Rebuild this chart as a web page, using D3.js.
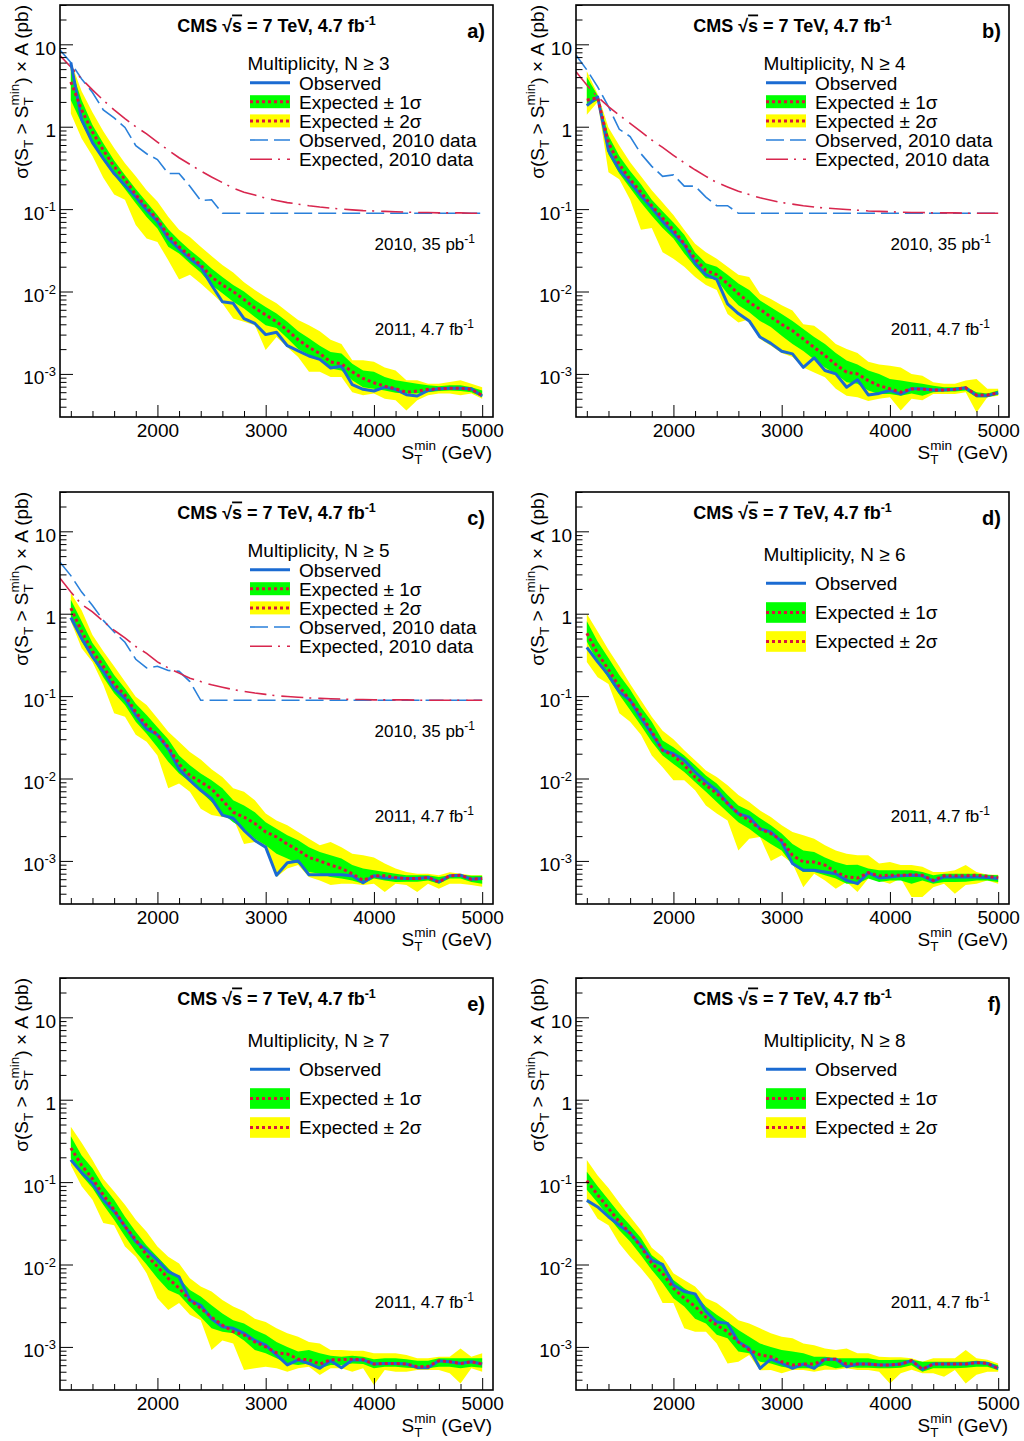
<!DOCTYPE html>
<html><head><meta charset="utf-8">
<script src="https://cdn.jsdelivr.net/npm/d3@7"></script>
<style>
body{margin:0;background:#fff;}
text{font-family:"Liberation Sans",Arial,Helvetica,sans-serif;fill:#000;}
</style></head><body>
<svg id="c" width="1024" height="1441"></svg>
<script>
// ---------- data ----------
const stMin = [1200,1300,1400,1500,1600,1700,1800,1900,2000,2100,2200,2300,2400,2500,2600,2700,2800,2900,3000,3100,3200,3300,3400,3500,3600,3700,3800,3900,4000,4100,4200,4300,4400,4500,4600,4700,4800,4900,5000];
const st2010 = [1100,1200,1300,1400,1500,1600,1700,1800,1900,2000,2100,2200,2300,2400,2500,2600,2700,2800,2900,3000,3100,3200,3300,3400,3500,3600,3700,3800,3900,4000,4100,4200,4300,4400,4500,4600,4700,4800,4900,5000];

// a) N>=3
const obsA = [6.0,1.22,0.64,0.41,0.27,0.195,0.14,0.097,0.071,0.044,0.033,0.025,0.020,0.012,0.0075,0.0072,0.0047,0.0041,0.0030,0.0032,0.0022,0.0019,0.00165,0.0015,0.00118,0.00124,0.00074,0.00065,0.00062,0.00069,0.00065,0.00056,0.00054,0.00063,0.00066,0.00067,0.00067,0.00066,0.00054];
const expA = [3.5,1.6,0.86,0.52,0.33,0.23,0.15,0.105,0.075,0.048,0.035,0.027,0.021,0.015,0.012,0.010,0.0080,0.0063,0.0052,0.0043,0.0034,0.0026,0.0021,0.00177,0.0014,0.00133,0.00106,0.00088,0.00078,0.00071,0.00066,0.00060,0.00062,0.00065,0.00066,0.00067,0.00067,0.00065,0.00055];
const hi1A = [5.2,2.1,1.05,0.63,0.39,0.26,0.175,0.122,0.085,0.057,0.042,0.032,0.025,0.019,0.015,0.012,0.010,0.0079,0.0065,0.0054,0.0043,0.0033,0.0027,0.0022,0.00185,0.00177,0.00133,0.0011,0.00106,0.00092,0.00084,0.0008,0.00076,0.00073,0.00071,0.00073,0.00073,0.00069,0.00063];
const lo1A = [2.1,1.1,0.62,0.39,0.26,0.175,0.118,0.08,0.058,0.035,0.029,0.022,0.017,0.012,0.0095,0.0075,0.0062,0.0049,0.0039,0.0036,0.0027,0.0020,0.0017,0.00147,0.00116,0.0011,0.00084,0.00069,0.00066,0.00063,0.00059,0.00058,0.00058,0.0006,0.00062,0.00063,0.00062,0.0006,0.000525];
const hi2A = [6.1,2.7,1.5,0.88,0.55,0.36,0.25,0.17,0.124,0.081,0.056,0.046,0.035,0.027,0.021,0.017,0.013,0.0104,0.0086,0.0072,0.0057,0.0045,0.0039,0.0033,0.0026,0.0023,0.00147,0.00147,0.0014,0.0012,0.0011,0.00084,0.00084,0.00076,0.00076,0.0008,0.00084,0.00076,0.00069];
const lo2A = [1.45,0.72,0.44,0.24,0.15,0.13,0.064,0.044,0.040,0.024,0.014,0.016,0.0125,0.0095,0.0072,0.0047,0.0043,0.0039,0.00195,0.0028,0.0021,0.0016,0.00106,0.00106,0.00092,0.00092,0.0006,0.00055,0.00058,0.0005,0.00048,0.00036,0.00048,0.00055,0.00058,0.00058,0.00055,0.00058,0.0005];
const obs2010A = [8.5,6.0,3.8,2.6,1.6,1.28,0.98,0.59,0.47,0.40,0.27,0.27,0.19,0.127,0.13,0.089,0.089,0.089,0.089,0.089,0.089,0.089,0.089,0.089,0.089,0.089,0.089,0.089,0.089,0.089,0.089,0.089,0.089,0.089,0.089,0.089,0.089,0.089,0.089,0.089];
const exp2010A = [7.3,5.3,3.8,2.8,2.1,1.6,1.25,1.0,0.82,0.65,0.52,0.42,0.35,0.29,0.245,0.21,0.18,0.16,0.148,0.136,0.127,0.12,0.115,0.11,0.106,0.103,0.1,0.098,0.096,0.095,0.094,0.093,0.092,0.091,0.091,0.09,0.09,0.09,0.089,0.089];

// b) N>=4
const obsB = [1.8,2.3,0.51,0.30,0.21,0.145,0.104,0.071,0.051,0.037,0.022,0.016,0.014,0.0071,0.0054,0.0044,0.0028,0.00235,0.00188,0.00175,0.0012,0.00157,0.0011,0.001,0.00069,0.00085,0.000555,0.00058,0.00063,0.00057,0.00066,0.00066,0.00064,0.00064,0.00065,0.00068,0.000545,0.000545,0.00059];
const expB = [2.1,2.25,0.64,0.35,0.23,0.16,0.11,0.078,0.056,0.038,0.025,0.018,0.016,0.0125,0.0094,0.0074,0.0061,0.0049,0.004,0.00335,0.00265,0.0021,0.00167,0.0013,0.00105,0.001,0.00083,0.00072,0.00066,0.0006,0.00066,0.00065,0.00064,0.00064,0.00065,0.00068,0.000555,0.000555,0.00059];
const hi1B = [4.0,2.4,0.78,0.44,0.29,0.20,0.13,0.094,0.069,0.049,0.030,0.022,0.020,0.016,0.0125,0.0104,0.0078,0.00645,0.00535,0.0044,0.0035,0.0028,0.0023,0.0018,0.00145,0.0013,0.0011,0.001,0.00087,0.00083,0.00079,0.00076,0.00072,0.00069,0.00069,0.0007,0.0006,0.00058,0.00063];
const lo1B = [1.8,2.1,0.46,0.27,0.18,0.12,0.083,0.059,0.044,0.029,0.020,0.0145,0.014,0.0094,0.0068,0.0056,0.0044,0.0037,0.0029,0.0023,0.0019,0.0015,0.0012,0.001,0.00079,0.00076,0.00063,0.00057,0.00057,0.000545,0.00058,0.000545,0.0006,0.00061,0.00061,0.00063,0.00052,0.00052,0.00056];
const hi2B = [4.7,2.5,0.98,0.59,0.37,0.25,0.17,0.12,0.085,0.056,0.038,0.030,0.025,0.020,0.016,0.015,0.0094,0.0081,0.0068,0.0059,0.004,0.00385,0.00305,0.0023,0.002,0.0018,0.0014,0.0013,0.00126,0.0012,0.001,0.00095,0.00079,0.00076,0.00076,0.00083,0.00087,0.00066,0.00066];
const lo2B = [1.4,2.0,0.28,0.23,0.13,0.056,0.059,0.030,0.025,0.020,0.015,0.012,0.0104,0.00535,0.0042,0.0046,0.00265,0.0022,0.0018,0.0016,0.0012,0.00104,0.00091,0.00066,0.000545,0.00052,0.00047,0.0005,0.00052,0.00036,0.0005,0.00048,0.00057,0.00057,0.00057,0.0006,0.00034,0.00052,0.000545];
const obs2010B = [7.4,4.9,3.05,1.75,0.93,0.76,0.47,0.33,0.25,0.26,0.19,0.19,0.14,0.11,0.11,0.089,0.089,0.089,0.089,0.089,0.089,0.089,0.089,0.089,0.089,0.089,0.089,0.089,0.089,0.089,0.089,0.089,0.089,0.089,0.089,0.089,0.089,0.089,0.089,0.089];
const exp2010B = [4.65,3.2,2.3,1.75,1.38,1.1,0.87,0.69,0.56,0.45,0.365,0.30,0.25,0.21,0.186,0.165,0.15,0.137,0.128,0.12,0.115,0.11,0.106,0.103,0.101,0.099,0.097,0.095,0.094,0.093,0.092,0.091,0.091,0.090,0.090,0.090,0.089,0.089,0.089,0.089];

// c) N>=5
const obsC = [0.9,0.50,0.30,0.20,0.124,0.094,0.059,0.040,0.034,0.023,0.013,0.0095,0.0072,0.0057,0.0036,0.0033,0.00235,0.00177,0.00147,0.00067,0.00095,0.001,0.00068,0.00068,0.00068,0.00068,0.00066,0.000545,0.00066,0.00062,0.00062,0.00061,0.00061,0.00063,0.000555,0.00066,0.00067,0.0006,0.00061];
const expC = [1.17,0.61,0.35,0.23,0.14,0.103,0.064,0.044,0.034,0.024,0.015,0.0109,0.0091,0.0075,0.00545,0.0039,0.0034,0.00285,0.00225,0.00195,0.0016,0.00135,0.0011,0.001,0.00089,0.00081,0.0007,0.00058,0.00066,0.00066,0.00063,0.00061,0.00061,0.00063,0.000555,0.00066,0.00067,0.0006,0.00061];
const hi1C = [1.48,0.81,0.44,0.29,0.18,0.124,0.081,0.059,0.042,0.030,0.019,0.0145,0.0115,0.0095,0.0076,0.00545,0.0047,0.0039,0.00295,0.00245,0.00205,0.00178,0.00147,0.00128,0.00117,0.00107,0.00089,0.00081,0.00077,0.000735,0.0007,0.00067,0.00067,0.00067,0.00064,0.00067,0.00068,0.00066,0.00066];
const lo1C = [0.93,0.46,0.29,0.17,0.108,0.078,0.049,0.035,0.024,0.016,0.0115,0.0091,0.0069,0.0052,0.00375,0.00295,0.00245,0.00186,0.00155,0.00122,0.00107,0.00093,0.000735,0.0007,0.00064,0.00061,0.00058,0.00053,0.00061,0.00058,0.000555,0.00056,0.00056,0.00058,0.00053,0.00061,0.00061,0.000555,0.00053];
const hi2C = [1.78,1.1,0.55,0.35,0.23,0.15,0.098,0.078,0.054,0.037,0.028,0.021,0.017,0.013,0.0104,0.0076,0.0069,0.00545,0.00375,0.0031,0.0027,0.00225,0.00186,0.00155,0.0017,0.00147,0.00122,0.00117,0.0011,0.00093,0.00081,0.000735,0.0007,0.0007,0.00067,0.00073,0.0007,0.00067,0.00067];
const lo2C = [0.81,0.38,0.26,0.137,0.062,0.056,0.034,0.028,0.019,0.0076,0.0087,0.0069,0.0043,0.0036,0.0034,0.0033,0.0016,0.0017,0.00147,0.00064,0.00081,0.00089,0.00064,0.00058,0.00051,0.00053,0.00053,0.00051,0.00053,0.00042,0.00053,0.00051,0.00042,0.00053,0.00046,0.00053,0.00053,0.00051,0.000485];
const obs2010C = [4.2,2.9,1.83,1.26,0.83,0.60,0.45,0.28,0.22,0.23,0.205,0.20,0.15,0.089,0.089,0.089,0.089,0.089,0.089,0.089,0.089,0.089,0.089,0.089,0.089,0.089,0.089,0.089,0.089,0.089,0.089,0.089,0.089,0.089,0.089,0.089,0.089,0.089,0.089,0.089];
const exp2010C = [2.7,1.83,1.3,1.05,0.81,0.63,0.51,0.40,0.33,0.26,0.22,0.19,0.165,0.15,0.137,0.128,0.12,0.114,0.109,0.105,0.101,0.099,0.097,0.095,0.094,0.093,0.092,0.091,0.091,0.090,0.090,0.090,0.090,0.089,0.089,0.089,0.089,0.089,0.089,0.089];

// d) N>=6
const obsD = [0.39,0.26,0.18,0.113,0.089,0.054,0.035,0.022,0.020,0.0167,0.012,0.0091,0.0072,0.005,0.00375,0.0034,0.00245,0.00225,0.0017,0.00093,0.00077,0.00077,0.000735,0.0007,0.00058,0.00053,0.00072,0.00062,0.00064,0.00066,0.00067,0.00066,0.00057,0.00064,0.00064,0.00064,0.00064,0.00063,0.00061];
const expD = [0.58,0.33,0.21,0.13,0.089,0.059,0.037,0.022,0.019,0.0145,0.0104,0.0083,0.0066,0.005,0.00375,0.0031,0.00245,0.00215,0.00178,0.00117,0.00097,0.00097,0.00089,0.000735,0.00064,0.00062,0.00072,0.00066,0.00067,0.00067,0.00068,0.00067,0.00058,0.00066,0.00066,0.00066,0.00067,0.00065,0.00063];
const hi1D = [0.81,0.46,0.29,0.18,0.12,0.074,0.049,0.029,0.024,0.019,0.0145,0.0109,0.0087,0.0063,0.0047,0.0041,0.0033,0.0027,0.00215,0.0016,0.00134,0.00128,0.0011,0.00097,0.00089,0.0009,0.00081,0.00077,0.00077,0.00077,0.00077,0.000735,0.00067,0.0007,0.0007,0.0007,0.0007,0.00068,0.00067];
const lo1D = [0.46,0.26,0.165,0.104,0.068,0.044,0.028,0.019,0.015,0.012,0.0091,0.0069,0.0052,0.0039,0.00295,0.00245,0.00195,0.0016,0.00134,0.00089,0.000735,0.000735,0.00067,0.00061,0.00053,0.00053,0.00061,0.000555,0.00058,0.00058,0.00053,0.00058,0.00053,0.000555,0.000555,0.00056,0.00058,0.00058,0.000555];
const hi2D = [1.0,0.61,0.365,0.23,0.14,0.089,0.056,0.038,0.030,0.022,0.0167,0.0125,0.0104,0.0083,0.0063,0.0052,0.0041,0.0034,0.0027,0.00225,0.00205,0.00186,0.00155,0.00134,0.00122,0.00117,0.00117,0.00093,0.00097,0.00089,0.00089,0.00085,0.000735,0.000735,0.00077,0.00089,0.000735,0.00068,0.00068];
const lo2D = [0.26,0.17,0.14,0.062,0.049,0.034,0.019,0.0137,0.0095,0.0095,0.0072,0.0047,0.00375,0.0031,0.00134,0.00186,0.00195,0.001,0.00117,0.00093,0.00048,0.0007,0.00058,0.00046,0.000555,0.00042,0.00061,0.00058,0.00053,0.00061,0.000365,0.000365,0.00048,0.00053,0.0004,0.00051,0.00053,0.00058,0.00053];

// e) N>=7
const obsE = [0.186,0.13,0.097,0.061,0.044,0.029,0.019,0.015,0.0113,0.0082,0.0071,0.0037,0.0032,0.0022,0.00176,0.00168,0.00146,0.0012,0.00105,0.0008,0.000605,0.000695,0.00063,0.00055,0.00068,0.00056,0.000695,0.000695,0.00062,0.00063,0.00063,0.00062,0.00056,0.00056,0.00068,0.00066,0.00063,0.00066,0.00062];
const expE = [0.26,0.16,0.11,0.070,0.046,0.029,0.020,0.013,0.0094,0.0068,0.00515,0.0037,0.00295,0.0023,0.00184,0.00153,0.0014,0.00115,0.001,0.00085,0.00082,0.00071,0.0007,0.00062,0.0007,0.0007,0.00071,0.0007,0.00062,0.00063,0.00063,0.00062,0.000575,0.00058,0.00068,0.00066,0.00063,0.00066,0.00062];
const hi1E = [0.36,0.21,0.147,0.090,0.061,0.038,0.025,0.017,0.0124,0.009,0.0068,0.0049,0.0041,0.0032,0.00255,0.0021,0.00193,0.0016,0.0014,0.00115,0.001,0.00088,0.00092,0.00084,0.00078,0.00076,0.00078,0.00076,0.00071,0.00073,0.00073,0.00071,0.00068,0.00068,0.00073,0.00073,0.00073,0.00073,0.00073];
const lo1E = [0.195,0.12,0.085,0.053,0.035,0.022,0.0143,0.01,0.0068,0.0049,0.0043,0.0031,0.0023,0.00168,0.00153,0.00146,0.0012,0.00092,0.00084,0.00073,0.00063,0.000605,0.00063,0.00055,0.000605,0.000605,0.00063,0.00062,0.00055,0.000575,0.000575,0.00056,0.00055,0.00055,0.000575,0.000575,0.00055,0.000575,0.00056];
const hi2E = [0.47,0.30,0.186,0.11,0.077,0.053,0.035,0.025,0.0165,0.0124,0.0103,0.0068,0.0054,0.0047,0.0037,0.0031,0.0027,0.0022,0.002,0.00168,0.00146,0.00133,0.00115,0.0011,0.00092,0.00092,0.0009,0.0009,0.00084,0.00084,0.00084,0.0008,0.00073,0.00073,0.00076,0.00076,0.00096,0.00076,0.00084];
const lo2E = [0.16,0.089,0.061,0.032,0.030,0.0165,0.0124,0.00785,0.0039,0.0028,0.0034,0.00245,0.0021,0.00092,0.0012,0.0011,0.000525,0.00055,0.000575,0.00055,0.0005,0.00055,0.000575,0.000455,0.00055,0.00055,0.0005,0.00055,0.000345,0.000525,0.0005,0.0005,0.000525,0.000525,0.000525,0.00048,0.00036,0.00055,0.0005];

// f) N>=8
const obsF = [0.060,0.050,0.038,0.030,0.024,0.017,0.0113,0.010,0.00565,0.0047,0.0044,0.0027,0.002,0.00193,0.00115,0.00096,0.00055,0.00071,0.00063,0.00055,0.00062,0.00055,0.00071,0.00071,0.000575,0.00062,0.00062,0.000605,0.000605,0.00062,0.00068,0.000535,0.00062,0.00062,0.00062,0.00062,0.000645,0.00063,0.00055];
const expF = [0.104,0.070,0.048,0.033,0.024,0.0165,0.0103,0.00785,0.00515,0.0039,0.0031,0.0023,0.00184,0.00153,0.00115,0.00092,0.0008,0.00076,0.00066,0.000605,0.00062,0.00062,0.00071,0.00071,0.00062,0.00062,0.00062,0.000605,0.000605,0.00062,0.00068,0.000535,0.00062,0.00062,0.00062,0.00062,0.000645,0.00063,0.00055];
const hi1F = [0.134,0.089,0.061,0.042,0.030,0.021,0.013,0.0103,0.0065,0.00515,0.0043,0.0031,0.00245,0.002,0.0016,0.00133,0.0011,0.001,0.00092,0.00088,0.00084,0.00076,0.00076,0.00073,0.00073,0.00073,0.00073,0.000695,0.000695,0.0007,0.0007,0.00066,0.00066,0.00066,0.00066,0.00066,0.00068,0.00066,0.0006];
const lo1F = [0.081,0.056,0.038,0.026,0.019,0.013,0.0086,0.00595,0.0039,0.0031,0.0022,0.00193,0.0014,0.00127,0.00088,0.00084,0.00066,0.00063,0.000575,0.00055,0.00055,0.00055,0.0006,0.00055,0.000575,0.00056,0.00056,0.00055,0.00055,0.00056,0.0006,0.0005,0.00055,0.00055,0.00055,0.00056,0.000575,0.000575,0.00052];
const hi2F = [0.186,0.12,0.085,0.056,0.038,0.026,0.016,0.0124,0.00785,0.0065,0.0054,0.0039,0.0034,0.0027,0.0021,0.00193,0.00168,0.00146,0.00133,0.00127,0.0011,0.00105,0.00096,0.00092,0.00096,0.00084,0.00084,0.00076,0.00075,0.00075,0.00073,0.00066,0.00073,0.00073,0.00073,0.00092,0.00073,0.0007,0.00063];
const lo2F = [0.058,0.036,0.030,0.018,0.0124,0.009,0.0062,0.0034,0.0034,0.00168,0.00153,0.00153,0.0011,0.00063,0.00066,0.0008,0.00052,0.000525,0.00048,0.000525,0.000525,0.0005,0.00053,0.00053,0.00055,0.000525,0.000525,0.0005,0.00036,0.00048,0.00053,0.00048,0.00048,0.000435,0.000525,0.00036,0.00046,0.0005,0.0005];

// ticks
const xTicksMajor = [2000,3000,4000,5000];
const xTicksMinor = [1200,1400,1600,1800,2200,2400,2600,2800,3200,3400,3600,3800,4200,4400,4600,4800];
const yTicksMajor = [1e-3,1e-2,1e-1,1,10];
const yTickBase = ["10","10","10","1","10"];
const yTickExp = ["-3","-2","-1","",""];
const xDomain = [1100,5100];
const yDomain = [3e-4,30];

// ---------- drawing ----------
const C = {yellow:"#ffff00", green:"#00ff00", obs:"#1b6bd2", exp:"#d8143c", obs10:"#2a80da", exp10:"#d8264e"};
const W = 433, H = 412;
const svg = d3.select("#c");
svg.append("rect").attr("width",1024).attr("height",1441).attr("fill","#fff");
const x = d3.scaleLinear().domain(xDomain).range([0,W]);
const y = d3.scaleLog().domain(yDomain).range([H,0]);

const panels = [
  {key:"a", n:"3", left:60, top:5, obs:obsA, exp:expA, hi1:hi1A, lo1:lo1A, hi2:hi2A, lo2:lo2A, obs10:obs2010A, exp10:exp2010A},
  {key:"b", n:"4", left:576, top:5, obs:obsB, exp:expB, hi1:hi1B, lo1:lo1B, hi2:hi2B, lo2:lo2B, obs10:obs2010B, exp10:exp2010B},
  {key:"c", n:"5", left:60, top:492, obs:obsC, exp:expC, hi1:hi1C, lo1:lo1C, hi2:hi2C, lo2:lo2C, obs10:obs2010C, exp10:exp2010C},
  {key:"d", n:"6", left:576, top:492, obs:obsD, exp:expD, hi1:hi1D, lo1:lo1D, hi2:hi2D, lo2:lo2D},
  {key:"e", n:"7", left:60, top:978, obs:obsE, exp:expE, hi1:hi1E, lo1:lo1E, hi2:hi2E, lo2:lo2E},
  {key:"f", n:"8", left:576, top:978, obs:obsF, exp:expF, hi1:hi1F, lo1:lo1F, hi2:hi2F, lo2:lo2F}
];

const minorY = y.ticks().filter(v => !yTicksMajor.some(m => Math.abs(m - v)/m < 1e-6) && v > yDomain[0]*1.0001);

function drawPanel(p){
  const g = svg.append("g").attr("transform",`translate(${p.left},${p.top})`);
  g.append("clipPath").attr("id","clip"+p.key).append("rect").attr("width",W).attr("height",H);
  const plot = g.append("g").attr("clip-path",`url(#clip${p.key})`);
  const band = (lo,hi) => d3.area().x((d,i)=>x(stMin[i])).y0((d,i)=>y(lo[i])).y1((d,i)=>y(hi[i]));
  const ln = arr => d3.line().x((d,i)=>x(stMin[i])).y((d,i)=>y(arr[i]));
  const ln10 = arr => d3.line().x((d,i)=>x(st2010[i])).y((d,i)=>y(arr[i]));
  plot.append("path").datum(stMin).attr("d",band(p.lo2,p.hi2)).attr("fill",C.yellow);
  plot.append("path").datum(stMin).attr("d",band(p.lo1,p.hi1)).attr("fill",C.green);
  if(p.obs10){
    plot.append("path").datum(st2010).attr("d",ln10(p.obs10)).attr("fill","none").attr("stroke",C.obs10).attr("stroke-width",1.6).attr("stroke-dasharray","18,6");
    plot.append("path").datum(st2010).attr("d",ln10(p.exp10)).attr("fill","none").attr("stroke",C.exp10).attr("stroke-width",1.6).attr("stroke-dasharray","22,6,2,7");
  }
  plot.append("path").datum(stMin).attr("d",ln(p.obs)).attr("fill","none").attr("stroke",C.obs).attr("stroke-width",3).attr("stroke-linejoin","round");
  plot.append("path").datum(stMin).attr("d",ln(p.exp)).attr("fill","none").attr("stroke",C.exp).attr("stroke-width",3).attr("stroke-dasharray","3,3");

  // axes
  const axFont = g => g.attr("font-size",19).attr("font-family","'Liberation Sans',Arial,sans-serif").attr("color","#000");
  const xa = g.append("g").attr("transform",`translate(0,${H})`).call(d3.axisBottom(x).tickValues(xTicksMajor).tickSize(-12).tickSizeOuter(0).tickPadding(6.5).tickFormat(d3.format("d"))).call(axFont);
  const xm = g.append("g").attr("transform",`translate(0,${H})`).call(d3.axisBottom(x).tickValues(xTicksMinor).tickSize(-6).tickSizeOuter(0).tickFormat(""));
  const ya = g.append("g").call(d3.axisLeft(y).tickValues(yTicksMajor).tickSize(-13).tickSizeOuter(0).tickPadding(4).tickFormat("")).call(axFont);
  const ym = g.append("g").call(d3.axisLeft(y).tickValues(minorY).tickSize(-6.5).tickSizeOuter(0).tickFormat(""));
  [xa,xm,ya,ym].forEach(a=>{ a.select(".domain").remove(); a.selectAll(".tick line").attr("stroke","#000").attr("stroke-width",1); });
  ya.selectAll(".tick text").each(function(d){
    const i = yTicksMajor.indexOf(d);
    const t = d3.select(this).attr("dy",null).attr("y",10);
    t.append("tspan").text(yTickBase[i]);
    if(yTickExp[i]) t.append("tspan").attr("font-size",13).attr("dy",-8.5).text(yTickExp[i]);
  });
  g.append("rect").attr("width",W).attr("height",H).attr("fill","none").attr("stroke","#000").attr("stroke-width",1.6);

  // axis titles
  const xt = g.append("text").attr("x",W-1).attr("y",H+42).attr("text-anchor","end").attr("font-size",19);
  xt.append("tspan").text("S");
  xt.append("tspan").attr("font-size",13.5).attr("dy",5).text("T");
  xt.append("tspan").attr("font-size",13.5).attr("dx",-8.2).attr("dy",-14).text("min");
  xt.append("tspan").attr("dy",9).text(" (GeV)");

  const yt = g.append("text").attr("transform","translate(-32,0) rotate(-90)").attr("text-anchor","end").attr("font-size",19);
  yt.append("tspan").text("σ(S");
  yt.append("tspan").attr("font-size",13.5).attr("dy",5).text("T");
  yt.append("tspan").attr("dy",-5).text(" > S");
  yt.append("tspan").attr("font-size",13.5).attr("dy",5).text("T");
  yt.append("tspan").attr("font-size",13.5).attr("dx",-8.2).attr("dy",-14).text("min");
  yt.append("tspan").attr("dy",9).text(") × A (pb)");

  // title
  const tt = g.append("text").attr("x",W/2).attr("y",26.5).attr("text-anchor","middle").attr("font-size",18).attr("font-weight","bold");
  tt.append("tspan").text("CMS  √");
  tt.append("tspan").attr("text-decoration","overline").text("s");
  tt.append("tspan").text(" = 7 TeV, 4.7 fb");
  tt.append("tspan").attr("font-size",12.5).attr("dy",-7).text("-1");
  g.append("text").attr("x",425).attr("y",33).attr("text-anchor","end").attr("font-size",20).attr("font-weight","bold").text(p.key+")");

  // luminosity notes
  if(p.obs10){
    const n1 = g.append("text").attr("x",415).attr("y",244.5).attr("text-anchor","end").attr("font-size",17);
    n1.append("tspan").text("2010, 35 pb");
    n1.append("tspan").attr("font-size",12).attr("dy",-7).text("-1");
  }
  const n2 = g.append("text").attr("x",414).attr("y",329.5).attr("text-anchor","end").attr("font-size",17);
  n2.append("tspan").text("2011, 4.7 fb");
  n2.append("tspan").attr("font-size",12).attr("dy",-7).text("-1");

  // legend
  const full = !!p.obs10;
  const rows = full ? [57.7,77.7,96.7,115.9,135,154.2] : [62,91.3,120.5,149.5];
  const rh = full ? 13 : 20.6;
  const lx0 = 190, lx1 = 230, tx = 239;
  const lg = g.append("g").attr("font-size",19);
  lg.append("text").attr("x",187.5).attr("y",rows[0]+6.8).text("Multiplicity, N ≥ "+p.n);
  lg.append("line").attr("x1",lx0).attr("x2",lx1).attr("y1",rows[1]).attr("y2",rows[1]).attr("stroke",C.obs).attr("stroke-width",3);
  lg.append("text").attr("x",tx).attr("y",rows[1]+6.8).text("Observed");
  [[C.green,"1σ",rows[2]],[C.yellow,"2σ",rows[3]]].forEach(([col,lab,cy])=>{
    lg.append("rect").attr("x",lx0).attr("y",cy-rh/2).attr("width",lx1-lx0).attr("height",rh).attr("fill",col);
    lg.append("line").attr("x1",lx0).attr("x2",lx1).attr("y1",cy).attr("y2",cy).attr("stroke",C.exp).attr("stroke-width",3).attr("stroke-dasharray","3,3");
    lg.append("text").attr("x",tx).attr("y",cy+6.8).text("Expected ± "+lab);
  });
  if(full){
    lg.append("line").attr("x1",lx0).attr("x2",lx1).attr("y1",rows[4]).attr("y2",rows[4]).attr("stroke",C.obs10).attr("stroke-width",1.6).attr("stroke-dasharray","18,6");
    lg.append("text").attr("x",tx).attr("y",rows[4]+6.8).text("Observed, 2010 data");
    lg.append("line").attr("x1",lx0).attr("x2",lx1).attr("y1",rows[5]).attr("y2",rows[5]).attr("stroke",C.exp10).attr("stroke-width",1.6).attr("stroke-dasharray","22,6,2,7");
    lg.append("text").attr("x",tx).attr("y",rows[5]+6.8).text("Expected, 2010 data");
  }
}
panels.forEach(drawPanel);
</script>
</body></html>
